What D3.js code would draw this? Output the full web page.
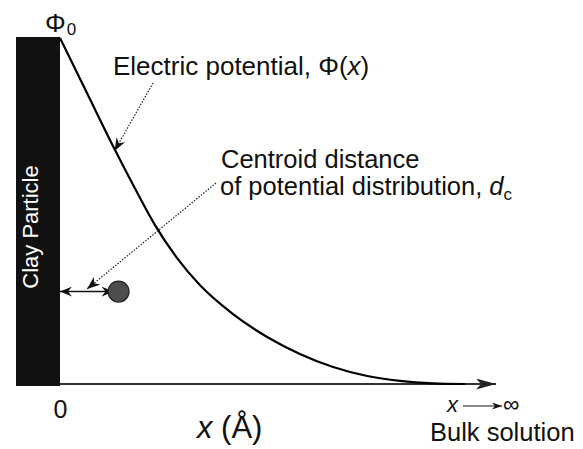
<!DOCTYPE html>
<html>
<head>
<meta charset="utf-8">
<script src="https://cdn.jsdelivr.net/npm/d3@7"></script>
<style>
  html, body { margin: 0; padding: 0; background: #fff; }
  svg { display: block; font-family: "Liberation Sans", Arial, Helvetica, sans-serif; }
</style>
</head>
<body>
<svg id="chart" width="583" height="449"></svg>
<script>
// ---- data (x in Å-like relative units, potential normalised to Φ0) ----
const distance  = [0, 6.4, 12.6, 17.2, 21.7, 26.8, 32.0, 39.6, 47.4, 54.9, 62.5, 70.3, 77.8, 85.4, 92.7];
const potential = [1.0, 0.835, 0.676, 0.564, 0.460, 0.364, 0.286, 0.202, 0.136, 0.087, 0.049, 0.023, 0.009, 0.002, 0.0];
const xTicks = [0];
const xTickLabels = ["0"];
const centroidX = [13.4];     // centroid distance d_c
const centroidY = [0.267];    // vertical position of the centroid marker

const svg = d3.select("#chart");
const x = d3.scaleLinear().domain([0, 100]).range([60, 497]);
const y = d3.scaleLinear().domain([0, 1]).range([384, 38]);

// markers
const defs = svg.append("defs");
function marker(id, color, len, half, notch) {
  defs.append("marker")
    .attr("id", id).attr("viewBox", `${-len} ${-half} ${len} ${half*2}`)
    .attr("refX", 0).attr("refY", 0)
    .attr("markerUnits", "userSpaceOnUse")
    .attr("markerWidth", len).attr("markerHeight", half*2)
    .attr("orient", "auto-start-reverse")
    .append("path")
    .attr("d", `M0,0 L${-len},${-half} L${-len+notch},0 L${-len},${half} Z`)
    .attr("fill", color);
}
marker("axisArrow", "#222", 20, 5.5, 5);
marker("dotArrow", "#111", 13, 5, 4);
marker("solidArrow", "#111", 12, 5, 4);
marker("smallArrow", "#111", 10, 3.5, 3);

// clay particle block
svg.append("rect")
  .attr("x", 16).attr("y", 37)
  .attr("width", x(0) - 16).attr("height", 386 - 37)
  .attr("fill", "#111");

svg.append("text")
  .attr("transform", `translate(38,227) rotate(-90)`)
  .attr("text-anchor", "middle")
  .attr("fill", "#fff")
  .attr("font-size", 22)
  .text("Clay Particle");

// x axis
const axis = d3.axisBottom(x).tickValues(xTicks)
  .tickFormat((d, i) => xTickLabels[i]).tickSize(0).tickSizeOuter(0).tickPadding(16);
const gx = svg.append("g").attr("transform", `translate(0,${y(0)})`).call(axis);
gx.select(".domain")
  .attr("d", `M${x(0)},0H${x(100) - 1}`)
  .attr("stroke", "#333").attr("stroke-width", 2)
  .attr("marker-end", "url(#axisArrow)");
gx.selectAll(".tick text")
  .attr("font-size", 25).attr("font-family", "Liberation Sans, Arial, sans-serif")
  .attr("fill", "#111");

// potential curve
const line = d3.line().x((d, i) => x(distance[i])).y(d => y(d)).curve(d3.curveMonotoneX);
svg.append("path")
  .datum(potential)
  .attr("d", line)
  .attr("fill", "none").attr("stroke", "#000").attr("stroke-width", 2.2);

// centroid marker and double arrow
const cx = x(centroidX[0]), cy = y(centroidY[0]);
svg.append("line")
  .attr("x1", x(0)).attr("y1", cy).attr("x2", cx - 5).attr("y2", cy)
  .attr("stroke", "#111").attr("stroke-width", 1.5)
  .attr("marker-start", "url(#solidArrow)")
  .attr("marker-end", "url(#solidArrow)");
svg.append("circle")
  .attr("cx", cx).attr("cy", cy).attr("r", 10.5)
  .attr("fill", "#4d4d4d").attr("stroke", "#222").attr("stroke-width", 1.2);

// labels
const phi0 = svg.append("text").attr("x", 45).attr("y", 31.5).attr("font-size", 26).attr("fill", "#111");
phi0.append("tspan").text("Φ");
phi0.append("tspan").attr("font-size", 17).attr("dy", 3).attr("dx", 1).text("0");

const el = svg.append("text").attr("x", 113).attr("y", 75).attr("font-size", 26).attr("fill", "#111");
el.append("tspan").text("Electric potential, Φ(");
el.append("tspan").attr("font-style", "italic").text("x");
el.append("tspan").text(")");

svg.append("text").attr("x", 221).attr("y", 168).attr("font-size", 25.5).attr("fill", "#111")
  .text("Centroid distance");
const cd = svg.append("text").attr("x", 220).attr("y", 195).attr("font-size", 25.5).attr("fill", "#111");
cd.append("tspan").text("of potential distribution, ");
cd.append("tspan").attr("font-style", "italic").text("d");
cd.append("tspan").attr("font-size", 17).attr("dy", 5).text("c");

// dotted leader arrows
svg.append("line")
  .attr("x1", 153).attr("y1", 83).attr("x2", 114.5).attr("y2", 151)
  .attr("stroke", "#222").attr("stroke-width", 1.2).attr("stroke-dasharray", "1.5,1.5")
  .attr("marker-end", "url(#dotArrow)");
svg.append("line")
  .attr("x1", 216).attr("y1", 183).attr("x2", 87).attr("y2", 289)
  .attr("stroke", "#222").attr("stroke-width", 1.2).attr("stroke-dasharray", "1.5,1.5")
  .attr("marker-end", "url(#dotArrow)");

// axis title
const xt = svg.append("text").attr("x", 197).attr("y", 438).attr("font-size", 31).attr("fill", "#111");
xt.append("tspan").attr("font-style", "italic").text("x");
xt.append("tspan").text(" (Å)");

// x -> infinity
svg.append("text").attr("x", 447).attr("y", 412).attr("font-size", 22)
  .attr("font-style", "italic").attr("fill", "#111").text("x");
svg.append("line")
  .attr("x1", 463).attr("y1", 406).attr("x2", 502).attr("y2", 406)
  .attr("stroke", "#111").attr("stroke-width", 1)
  .attr("marker-end", "url(#smallArrow)");
svg.append("text").attr("x", 503).attr("y", 412).attr("font-size", 23).attr("fill", "#111").text("∞");

svg.append("text").attr("x", 430).attr("y", 441).attr("font-size", 25.5).attr("fill", "#111")
  .text("Bulk solution");
</script>
</body>
</html>
